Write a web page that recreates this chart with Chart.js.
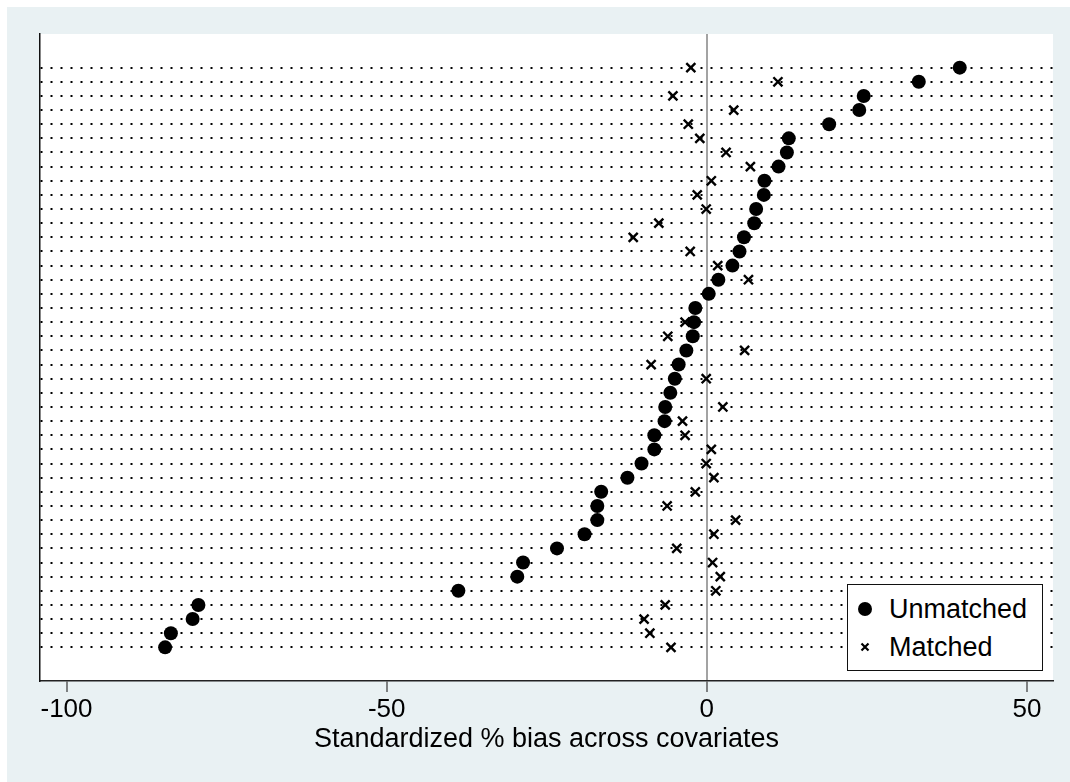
<!DOCTYPE html>
<html>
<head>
<meta charset="utf-8">
<title>Standardized % bias across covariates</title>
<script src="https://cdn.jsdelivr.net/npm/chart.js@4.4.1/dist/chart.umd.min.js"></script>
<style>
  html, body { margin: 0; padding: 0; background: #fff; width: 1070px; height: 782px; overflow: hidden; }
  #frame { position: absolute; left: 7px; top: 7px; width: 1063px; height: 775px; background: #e9f1f3; }
  #chart { position: absolute; left: 0; top: 0; }
  #legend {
    position: absolute; left: 847px; top: 584px; width: 194px; height: 85px;
    background: #fff; border: 1.3px solid #111;
    font-family: "Liberation Sans", Arial, sans-serif; font-size: 27px; color: #000;
  }
  #legend .item { position: absolute; left: 0; height: 32px; line-height: 32px; }
  #legend svg { position: absolute; left: 9px; top: 8px; }
  #legend span { position: absolute; left: 41px; top: 0; white-space: nowrap; }
</style>
</head>
<body>
<div id="frame"></div>
<canvas id="chart" width="1070" height="782"></canvas>
<div id="legend">
  <div class="item" style="top: 8px;">
    <svg width="16" height="16"><circle cx="8" cy="8" r="7" fill="#000"/></svg>
    <span>Unmatched</span>
  </div>
  <div class="item" style="top: 46px;">
    <svg width="16" height="16"><path d="M4.5 4.5 L11.5 11.5 M11.5 4.5 L4.5 11.5" stroke="#000" stroke-width="2.2"/></svg>
    <span>Matched</span>
  </div>
</div>
<script>
// Standardized % bias per covariate, sorted by the unmatched sample (top row first)
const unmatched = [39.5, 33.1, 24.5, 23.8, 19.1, 12.8, 12.5, 11.2, 9.0, 8.9,
    7.7, 7.4, 5.8, 5.1, 4.0, 1.8, 0.3, -1.8, -2.0, -2.2,
    -3.2, -4.4, -5.0, -5.7, -6.5, -6.6, -8.2, -8.2, -10.2, -12.4,
    -16.5, -17.1, -17.1, -19.1, -23.4, -28.7, -29.6, -38.8, -79.4, -80.3,
    -83.7, -84.6];
const matched = [-2.5, 11.1, -5.3, 4.2, -2.9, -1.1, 3.0, 6.8, 0.7, -1.5,
    -0.1, -7.5, -11.5, -2.6, 1.7, 6.5, 0.3, -1.8, -3.4, -6.1,
    5.9, -8.7, -0.1, -5.7, 2.5, -3.8, -3.4, 0.7, -0.1, 1.1,
    -1.8, -6.2, 4.5, 1.1, -4.7, 0.9, 2.1, 1.4, -6.5, -9.8,
    -8.9, -5.6];
const rows = unmatched.map((_, i) => i);
const xTicks = [-100, -50, 0, 50];
const xTitle = "Standardized % bias across covariates";

Chart.defaults.font.family = '"Liberation Sans", Arial, sans-serif';
Chart.defaults.color = "#000";

// white plot region
const plotBg = {
    id: "plotBg",
    beforeDraw(chart) {
        const { ctx, chartArea: a } = chart;
        ctx.save();
        ctx.fillStyle = "#fff";
        ctx.fillRect(a.left, a.top, a.right - a.left, a.bottom - a.top);
        ctx.restore();
    }
};

new Chart(document.getElementById("chart"), {
    type: "scatter",
    data: {
        datasets: [
            {
                label: "Unmatched",
                data: rows.map(i => ({ x: unmatched[i], y: i })),
                pointStyle: "circle",
                pointRadius: 7,
                pointHoverRadius: 7,
                backgroundColor: "#000",
                borderWidth: 0
            },
            {
                label: "Matched",
                data: rows.map(i => ({ x: matched[i], y: i })),
                pointStyle: "crossRot",
                pointRadius: 6.4,
                pointHoverRadius: 6.4,
                borderColor: "#000",
                backgroundColor: "#000",
                borderWidth: 2.4
            }
        ]
    },
    options: {
        responsive: false,
        animation: false,
        layout: { padding: { left: 40, top: 34, right: 17, bottom: 0 } },
        plugins: { legend: { display: false }, tooltip: { enabled: false } },
        scales: {
            x: {
                type: "linear",
                min: -104.14,
                max: 54.06,
                afterBuildTicks: s => { s.ticks = xTicks.map(v => ({ value: v })); },
                afterFit: s => { s.height = 101; },
                grid: {
                    color: c => (c.tick && c.tick.value === 0 ? "#a3a3a3" : "rgba(0,0,0,0)"),
                    lineWidth: 2,
                    tickColor: "#444",
                    tickWidth: 1.3,
                    tickLength: 11
                },
                border: { color: "#222", width: 1.5 },
                ticks: { color: "#000", font: { size: 26 }, padding: 2, maxRotation: 0, autoSkip: false },
                title: {
                    display: true,
                    text: xTitle,
                    color: "#000",
                    font: { size: 27 },
                    padding: { top: 0, bottom: 26 }
                }
            },
            y: {
                type: "linear",
                reverse: true,
                min: -2.38,
                max: 43.38,
                afterBuildTicks: s => { s.ticks = rows.map(v => ({ value: v })); },
                afterFit: s => { s.width = 0; },
                ticks: { display: false },
                grid: { color: "#000", lineWidth: 2, drawTicks: false },
                border: { color: "#111", width: 1.5, dash: [2, 8] }
            }
        }
    },
    plugins: [plotBg]
});
</script>
</body>
</html>
